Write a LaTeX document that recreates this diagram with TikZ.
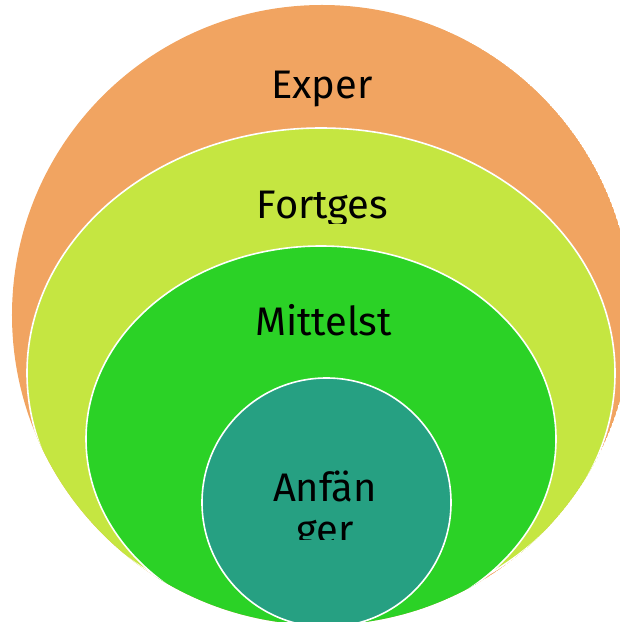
\documentclass[tikz,border=0pt]{standalone}
\usepackage{fontspec}
\setmainfont{Fira Sans}
\definecolor{expert}{RGB}{241,164,97}
\definecolor{fortg}{RGB}{197,230,65}
\definecolor{mittel}{RGB}{43,210,38}
\definecolor{anf}{RGB}{38,160,130}
\tikzstyle{ring} = [draw=white, line width=1.6bp]
\tikzstyle{lbl} = [font=\fontsize{40}{42}\selectfont, inner sep=0pt, anchor=base, align=center]

\begin{document}
\begin{tikzpicture}[x=1bp,y=-1bp]
\useasboundingbox (0,0) rectangle (620,622);
 \coordinate (O) at (322,315);
 \coordinate (F) at (321,373);
\coordinate (M) at (321,439);
\coordinate (A) at (326.5,502.5);

\clip (O) circle [radius=310bp];

\fill[expert] (O) circle [radius=310bp];
\filldraw[ring, fill=fortg] (F) ellipse [x radius=294bp, y radius=245bp];
\filldraw[ring, fill=mittel] (M) ellipse [x radius=235bp, y radius=193bp];
\filldraw[ring, fill=anf] (A) circle [radius=124.5bp];


\node[lbl, name=exper] at (322,98.3) {Exper};

\begin{scope}
\clip (150,160) rectangle (500,223);
\node[lbl, name=fortges] at (322.5,218) {Fortges};
\end{scope}

\node[lbl, name=mittelst] at (323.5,335) {Mittelst};

\begin{scope}
\clip (200,440) rectangle (460,539);
\node[lbl, name=anfaenger] at (325,543) {Anfän\\ger};
\end{scope}

\end{tikzpicture}
\end{document}
